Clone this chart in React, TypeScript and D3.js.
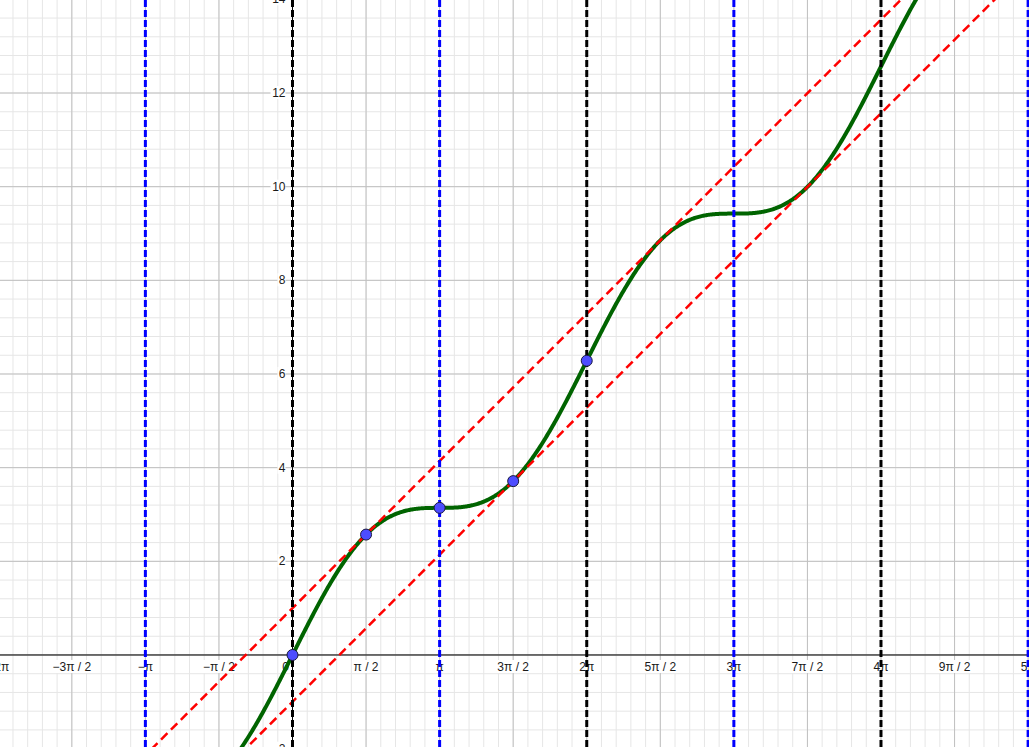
import React from "react";
import * as d3 from "d3";

const W = 1029;
const H = 747;

// view window (world coords)
const xDomain = [-6.246, 15.727];
const yDomain = [-1.965, 13.986];

// x tick labels at multiples of pi/2
const xTickMultiples = [-4, -3, -2, -1, 0, 1, 2, 3, 4, 5, 6, 7, 8, 9, 10];
const xTickLabels = ["−2π", "−3π / 2", "−π", "−π / 2", "0", "π / 2", "π", "3π / 2", "2π", "5π / 2", "3π", "7π / 2", "4π", "9π / 2", "5π"];
const yTicks = [-2, 2, 4, 6, 8, 10, 12, 14];

// vertical dashed lines (multiples of pi)
const blueLineMultiples = [-1, 1, 3, 5];
const blackLineMultiples = [0, 2, 4];

// red dashed lines y = x + c
const redOffsets = [1, -1];

// marked points (x, y)
const pointX = [0, Math.PI / 2, Math.PI, (3 * Math.PI) / 2, 2 * Math.PI];
const pointY = [0, 2.5708, 3.1416, 3.7124, 6.2832];

// plotted function f(x) = x + sin(x)
const f = (x: number) => x + Math.sin(x);

export default function App() {
  const x = d3.scaleLinear().domain(xDomain).range([0, W]);
  const y = d3.scaleLinear().domain(yDomain).range([H, 0]);

  const minorX: number[] = [];
  for (let k = -40; k <= 110; k++) minorX.push((k * Math.PI) / 10);
  const majorX: number[] = [];
  for (let k = -5; k <= 11; k++) majorX.push((k * Math.PI) / 2);
  const minorY: number[] = [];
  for (let k = -10; k <= 40; k++) minorY.push(k * 0.4);
  const majorY: number[] = [];
  for (let k = -2; k <= 8; k++) majorY.push(k * 2);

  const samples = d3.range(xDomain[0] - 0.2, xDomain[1] + 0.2, 0.02);
  const curve = d3
    .line<number>()
    .x((d) => x(d))
    .y((d) => y(f(d)))(samples);

  const font = "'Liberation Sans', Arial, sans-serif";

  return (
    <svg
      width={W}
      height={H}
      style={{ position: "absolute", left: 0, top: 0, background: "#fff" }}
    >
      <rect x={0} y={0} width={W} height={H} fill="#fff" />
      {/* minor grid */}
      <g stroke="#e6e6e6" strokeWidth={1}>
        {minorX.map((v, i) => (
          <line key={"mx" + i} x1={x(v)} x2={x(v)} y1={0} y2={H} />
        ))}
        {minorY.map((v, i) => (
          <line key={"my" + i} x1={0} x2={W} y1={y(v)} y2={y(v)} />
        ))}
      </g>
      {/* major grid */}
      <g stroke="#c0c0c0" strokeWidth={1}>
        {majorX.map((v, i) => (
          <line key={"Mx" + i} x1={x(v)} x2={x(v)} y1={0} y2={H} />
        ))}
        {majorY.map((v, i) => (
          <line key={"My" + i} x1={0} x2={W} y1={y(v)} y2={y(v)} />
        ))}
      </g>
      {/* axes */}
      <line x1={0} x2={W} y1={y(0)} y2={y(0)} stroke="#000" strokeWidth={1} />
      <line x1={x(0)} x2={x(0)} y1={0} y2={H} stroke="#000" strokeWidth={1} />
      {/* x labels */}
      <g fontFamily={font} fontSize={12} fill="#1a1a1a">
        {xTickMultiples.map((m, i) => {
          const px = x((m * Math.PI) / 2);
          if (m === 0) {
            return (
              <text key={"xl" + i} x={px - 7} y={y(0) + 16} textAnchor="middle">
                {xTickLabels[i]}
              </text>
            );
          }
          const w = xTickLabels[i].length * 5.2 + 2;
          return (
            <g key={"xl" + i}>
              <rect x={px - w / 2} y={y(0) + 5} width={w} height={13} fill="#fff" />
              <text x={px} y={y(0) + 16} textAnchor="middle">
                {xTickLabels[i]}
              </text>
            </g>
          );
        })}
        {yTicks.map((v, i) => {
          const py = y(v);
          const label = v < 0 ? "−" + Math.abs(v) : String(v);
          const w = label.length * 7 + 1;
          return (
            <g key={"yl" + i}>
              <rect x={x(0) - 7 - w} y={py - 7} width={w} height={13} fill="#fff" />
              <text x={x(0) - 7} y={py + 4} textAnchor="end">
                {label}
              </text>
            </g>
          );
        })}
      </g>
      {/* green curve */}
      <path d={curve ?? ""} fill="none" stroke="#006400" strokeWidth={4} strokeLinejoin="round" />
      {/* red dashed lines */}
      {redOffsets.map((c, i) => (
        <line
          key={"r" + i}
          x1={x(xDomain[0] - 1)}
          y1={y(xDomain[0] - 1 + c)}
          x2={x(xDomain[1] + 1)}
          y2={y(xDomain[1] + 1 + c)}
          stroke="#ff0000"
          strokeWidth={2.5}
          strokeDasharray="9,5"
        />
      ))}
      {/* vertical dashed lines */}
      {blueLineMultiples.map((m, i) => (
        <line
          key={"b" + i}
          x1={x(m * Math.PI)}
          x2={x(m * Math.PI)}
          y1={0}
          y2={H}
          stroke="#0000ff"
          strokeWidth={3}
          strokeDasharray="7,3"
        />
      ))}
      {blackLineMultiples.map((m, i) => (
        <line
          key={"k" + i}
          x1={x(m * Math.PI)}
          x2={x(m * Math.PI)}
          y1={0}
          y2={H}
          stroke="#000"
          strokeWidth={3}
          strokeDasharray="7,3"
        />
      ))}
      {/* points */}
      {pointX.map((px, i) => (
        <circle
          key={"p" + i}
          cx={x(px)}
          cy={y(pointY[i])}
          r={5.5}
          fill="#4d4dff"
          stroke="#1a1a40"
          strokeWidth={1}
        />
      ))}
    </svg>
  );
}
